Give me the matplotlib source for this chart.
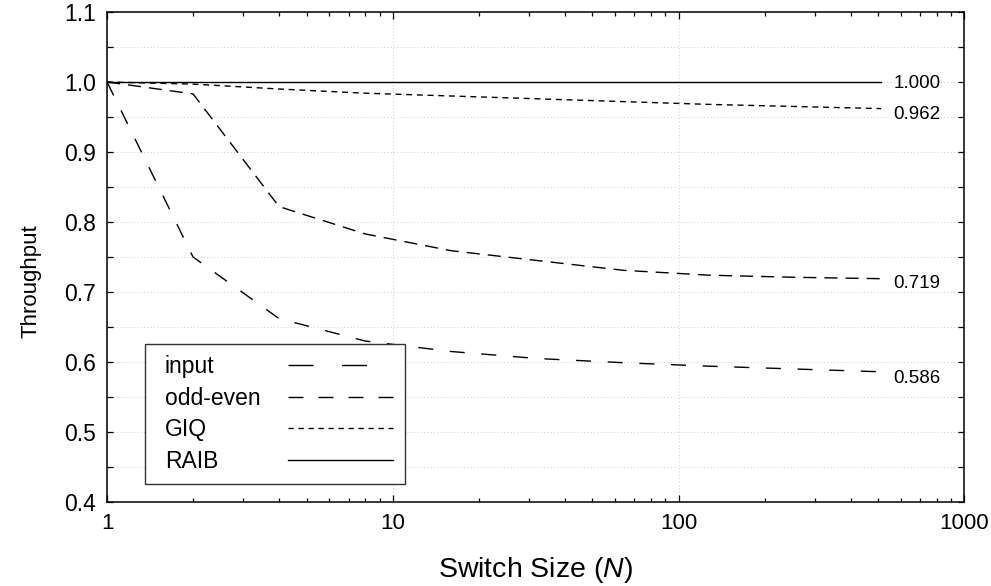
import numpy as np
import matplotlib
matplotlib.use("Agg")
import matplotlib.pyplot as plt
from matplotlib.lines import Line2D
from matplotlib.offsetbox import DrawingArea
from matplotlib.ticker import FixedLocator, FuncFormatter, MultipleLocator, LogLocator, NullFormatter

plt.rcParams['font.family'] = ['Liberation Sans', 'DejaVu Sans']
plt.rcParams['mathtext.fontset'] = 'custom'
plt.rcParams['mathtext.it'] = 'Liberation Sans:italic'
plt.rcParams['mathtext.rm'] = 'Liberation Sans'

# switch sizes and throughput
sizes = [1, 2, 4, 8, 16, 32, 64, 128, 256, 512]
input_q = [1.0, 0.75, 0.662, 0.630, 0.615, 0.605, 0.599, 0.594, 0.590, 0.586]
odd_even = [1.0, 0.983, 0.822, 0.783, 0.759, 0.745, 0.731, 0.724, 0.721, 0.719]
giq = [1.0, 0.997, 0.990, 0.984, 0.980, 0.976, 0.972, 0.968, 0.965, 0.962]
raib = [1.0, 1.0, 1.0, 1.0, 1.0, 1.0, 1.0, 1.0, 1.0, 1.0]

names = ['input', 'odd-even', 'GIQ', 'RAIB']
series = [input_q, odd_even, giq, raib]
plot_dashes = [(10.8, 12.0), (9.4, 5.8), (4.3, 3.4), None]
legend_dashes = [(18.0, 20.5), (10.8, 10.8), (3.8, 3.4), None]
label_dy = [-5, -3.5, -4.5, -1.3]   # end-label nudges, points

fig = plt.figure(figsize=(9.91, 5.86), dpi=100)
ax = fig.add_axes([0.108, 1 - 502 / 586, 0.865, 490 / 586])

for ys, d, dy in zip(series, plot_dashes, label_dy):
    ln, = ax.plot(sizes, ys, color='black', lw=1.0)
    if d is not None:
        ln.set_dashes(d)
    ax.annotate(f"{ys[-1]:.3f}", xy=(sizes[-1], ys[-1]), xytext=(9, dy),
                textcoords='offset points', va='center', ha='left', fontsize=13.5)

ax.set_xscale('log')
ax.set_xlim(1, 1000)
ax.set_ylim(0.4, 1.1)
ax.xaxis.set_major_locator(FixedLocator([1, 10, 100, 1000]))
ax.xaxis.set_major_formatter(FuncFormatter(lambda v, p: f"{v:g}"))
ax.xaxis.set_minor_locator(LogLocator(base=10, subs=np.arange(2, 10)))
ax.xaxis.set_minor_formatter(NullFormatter())
ax.yaxis.set_major_locator(MultipleLocator(0.1))
ax.yaxis.set_minor_locator(MultipleLocator(0.05))
ax.yaxis.set_major_formatter(FuncFormatter(lambda v, p: f"{v:.1f}"))

ax.tick_params(axis='both', which='both', direction='in', top=True, right=True, width=0.9)
ax.tick_params(axis='x', which='major', length=5, labelsize=16, pad=8)
ax.tick_params(axis='x', which='minor', length=3)
ax.tick_params(axis='y', which='both', length=4, labelsize=16.5, pad=8)
for s in ax.spines.values():
    s.set_linewidth(1.1)

ax.grid(True, which='major', axis='x', color='#bbbbbb', lw=0.6, ls=(0, (1, 3)))
ax.grid(True, which='both', axis='y', color='#bbbbbb', lw=0.6, ls=(0, (1, 3)))
ax.set_axisbelow(True)

ax.set_ylabel('Throughput', fontsize=16)
ax.yaxis.set_label_coords(-0.077, 0.451)
ax.set_xlabel('Switch Size ($\\mathit{N}$)', fontsize=20.5, labelpad=15)

handles = []
for d in legend_dashes:
    h = Line2D([], [], color='black', lw=1.0)
    if d is not None:
        h.set_dashes(d)
    handles.append(h)

fs = 16.5
leg = ax.legend(handles, names, loc='lower left', bbox_to_anchor=(0.0443, 0.0367),
                borderaxespad=0, markerfirst=False, fontsize=fs, handlelength=4.6,
                handletextpad=1.2, borderpad=0.5, labelspacing=0.37, fancybox=False,
                framealpha=1, edgecolor='#333333')
leg.get_frame().set_linewidth(1.0)

# left-align the labels, keep handles lined up on the right
fig.canvas.draw()
widths = [t.get_window_extent().width for t in leg.get_texts()]
maxw = max(widths)
base = 1.2 * fs
hbox = leg._legend_handle_box
for col in hbox.get_children():
    col.align = 'left'
    for item, w in zip(col.get_children(), widths):
        item.sep = base + (maxw - w) * 72 / fig.dpi
hbox.sep = 0
hbox._children.insert(0, DrawingArea(6, 1))

fig.savefig('out.png', dpi=100)
